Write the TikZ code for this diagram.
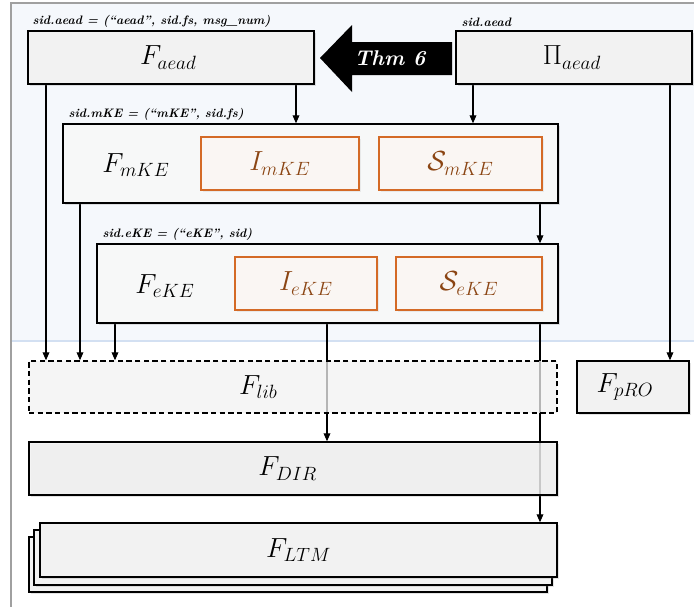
\documentclass[tikz,border=0pt]{standalone}
\usepackage{fontspec}
\usetikzlibrary{arrows.meta,shadows,fit}
\definecolor{paneblue}{HTML}{F5F8FC}
\definecolor{paneline}{HTML}{D3E0F2}
\definecolor{framegray}{HTML}{A0A0A0}
\definecolor{boxfill}{HTML}{F2F2F2}
\definecolor{kefill}{HTML}{F7F8F8}
\definecolor{ioborder}{HTML}{D46A26}
\definecolor{iofill}{HTML}{FAF6F3}
\definecolor{iotext}{HTML}{8B4513}
\pgfdeclarelayer{pane}
\pgfdeclarelayer{wires}
\pgfsetlayers{pane,wires,main}
\tikzset{
  softshadow/.style={drop shadow={shadow xshift=1.5pt, shadow yshift=-1.5pt, opacity=0.22}},
  func/.style={draw=black, line width=1pt, fill=boxfill, inner sep=0pt, softshadow},
  kebox/.style={func, fill=kefill},
  iobox/.style={draw=ioborder, line width=1pt, fill=iofill, inner sep=0pt,
    drop shadow={shadow xshift=1.2pt, shadow yshift=-1.2pt, opacity=0.12}},
  libbox/.style={draw=black, line width=1pt, dashed, dash pattern=on 4pt off 2.5pt,
    fill=boxfill, fill opacity=0.75, inner sep=0pt},
  mathlbl/.style={inner sep=0pt, text opacity=1, font=\fontsize{22.5}{26}\selectfont},
  iolbl/.style={mathlbl, text=iotext},
  sidlbl/.style={anchor=south west, inner sep=0pt,
    font=\fontsize{9.2}{11}\selectfont\bfseries\itshape},
  thmtext/.style={text=white, inner sep=0pt,
    font=\fontsize{16}{19}\selectfont\bfseries\itshape},
  wire/.style={draw=black, line width=0.9pt, -{Triangle[length=6pt,width=5pt]}}
}
\begin{document}
\begin{tikzpicture}[x=0.75pt,y=-0.75pt]
\useasboundingbox (0,0) rectangle (694,607);

% backdrop: blue pane for the upper part and the outer frame
\begin{pgfonlayer}{pane}
  \fill[white] (0,0) rectangle (694,607);
  \fill[paneblue] (11,3) rectangle (694,341);
  \draw[paneline, line width=0.8pt] (11,341) -- (694,341);
  \draw[framegray, line width=0.8pt] (694,3) -- (11,3) -- (11,607);
\end{pgfonlayer}

% top row
\node[func, fit={(28,31)(314,84)}] (aead) {};
\node[mathlbl] (aeadname) at ([xshift=-2pt]aead.center) {$F_{aead}$};
\node[func, fit={(456,31)(692,84)}] (piaead) {};
\node[mathlbl] (piname) at ([xshift=-1.5pt]piaead.center) {$\Pi_{aead}$};
\node[sidlbl] (aeadsid) at ([shift={(5,-3)}]aead.north west)
  {sid.aead = (``aead'', sid.fs, msg\_num)};
\node[sidlbl] (pisid) at ([shift={(6,-3)}]piaead.north west) {sid.aead};

% theorem arrow
\fill[black] (320,58) -- (352,25) -- (352,42) -- (452,42) -- (452,75)
  -- (352,75) -- (352,92) -- cycle;
\node[thmtext] (thm) at (390,58) {Thm 6};

% mKE
\node[kebox, fit={(63,124)(558,203)}] (mke) {};
\node[sidlbl] (mkesid) at ([shift={(6,-3)}]mke.north west)
  {sid.mKE = (``mKE'', sid.fs)};
\node[mathlbl] (mkename) at (136,165) {$F_{mKE}$};
\node[iobox, fit={(201,137)(359,190)}] (imke) {};
\node[iolbl] (imkename) at (imke.center) {$I_{mKE}$};
\node[iobox, fit={(379,137)(542,190)}] (smke) {};
\node[iolbl] (smkename) at (smke.center) {$\mathcal{S}_{mKE}$};

% eKE
\node[kebox, fit={(97,244)(558,323)}] (eke) {};
\node[sidlbl] (ekesid) at ([shift={(6,-3)}]eke.north west)
  {sid.eKE = (``eKE'', sid)};
\node[mathlbl] (ekename) at (165,286) {$F_{eKE}$};
\node[iobox, fit={(235,257)(377,310)}] (ieke) {};
\node[iolbl] (iekename) at (ieke.center) {$I_{eKE}$};
\node[iobox, fit={(396,257)(542,310)}] (seke) {};
\node[iolbl] (sekename) at (seke.center) {$\mathcal{S}_{eKE}$};

% lower functionalities
\node[libbox, fit={(29,361)(557,413)}] (lib) {};
\node[mathlbl] (libname) at ([xshift=-26pt]lib.center) {$F_{lib}$};
\node[func, fit={(577,361)(689,413)}] (pro) {};
\node[mathlbl] (proname) at ([xshift=-6pt]pro.center) {$F_{pRO}$};
\node[func, fit={(29,442)(557,495)}, fill opacity=0.8] (dir) {};
\node[mathlbl] (dirname) at ([xshift=-4pt]dir.center) {$F_{DIR}$};
\node[func, fit={(29,537)(547,592)}] (ltmc) {};
\node[func, fit={(34,530)(552,585)}] (ltmb) {};
\node[func, fit={(40,523)(557,577)}] (ltm) {};
\node[mathlbl] (ltmname) at (ltm.center) {$F_{LTM}$};

% columns of the connectors
\coordinate (cA) at (46,0);
\coordinate (cB) at (80,0);
\coordinate (cC) at (115,0);
\coordinate (cD) at (327,0);
\coordinate (cE) at (540,0);
\coordinate (cF) at (296,0);
\coordinate (cG) at (473,0);
\coordinate (cH) at (670,0);

\begin{pgfonlayer}{wires}
  \draw[wire] (aead.south -| cF) -- (mke.north -| cF);
  \draw[wire] (piaead.south -| cG) -- (mke.north -| cG);
  \draw[wire] (mke.south -| cE) -- (eke.north -| cE);
  \draw[wire] (aead.south -| cA) -- (lib.north -| cA);
  \draw[wire] (mke.south -| cB) -- (lib.north -| cB);
  \draw[wire] (eke.south -| cC) -- (lib.north -| cC);
  \draw[wire] (eke.south -| cD) -- (dir.north -| cD);
  \draw[wire] (eke.south -| cE) -- (ltm.north -| cE);
  \draw[wire] (piaead.south -| cH) -- (pro.north -| cH);
\end{pgfonlayer}
\end{tikzpicture}
\end{document}
